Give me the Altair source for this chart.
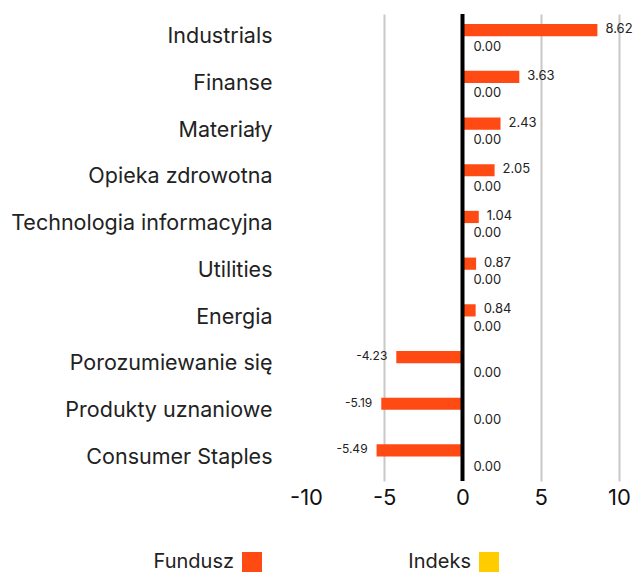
import altair as alt
import pandas as pd

categories = ["Industrials", "Finanse", "Materiały", "Opieka zdrowotna",
              "Technologia informacyjna", "Utilities", "Energia",
              "Porozumiewanie się", "Produkty uznaniowe", "Consumer Staples"]
fundusz = [8.62, 3.63, 2.43, 2.05, 1.04, 0.87, 0.84, -4.23, -5.19, -5.49]
indeks = [0.00, 0.00, 0.00, 0.00, 0.00, 0.00, 0.00, 0.00, 0.00, 0.00]
series = ["Fundusz", "Indeks"]
colors = ["#FF4A14", "#FFCC00"]
x_ticks = [-10, -5, 0, 5, 10]

rows = []
for c, f, i in zip(categories, fundusz, indeks):
    rows.append({"category": c, "series": "Fundusz", "value": f})
    rows.append({"category": c, "series": "Indeks", "value": i})
df = pd.DataFrame(rows)

FONT = "Inter"

y_enc = alt.Y("category:N", sort=categories,
              scale=alt.Scale(paddingInner=0.4, paddingOuter=0.2),
              axis=alt.Axis(title=None, labelFontSize=21.5, labelPadding=34,
                            labelLimit=0, ticks=False, domain=False,
                            labelColor="#222222", labelFont=FONT))
yoff = alt.YOffset("series:N", sort=series,
                   scale=alt.Scale(paddingInner=0.15, paddingOuter=0.05))
x_enc = alt.X("value:Q", scale=alt.Scale(domain=[-10, 10]),
              axis=alt.Axis(values=x_ticks, title=None, labelFontSize=22,
                            labelFont=FONT, labelColor="#111111",
                            labelFlush=False,
                            labelExpr="replace(datum.label, '\u2212', '-')",
                            domain=False, ticks=False, labelPadding=6,
                            gridWidth=2,
                            gridColor={"condition": {"test": "datum.value === -10 || datum.value === 0",
                                                     "value": "transparent"},
                                       "value": "#c8c8c8"}))

base = alt.Chart(df).transform_calculate(
    lbl="replace(format(datum.value, '.2f'), '\u2212', '-')")

bars = base.mark_bar().encode(
    x=x_enc, y=y_enc, yOffset=yoff,
    color=alt.Color("series:N", sort=series,
                    scale=alt.Scale(domain=series, range=colors),
                    legend=alt.Legend(title=None, orient="none", legendX=-64, legendY=538,
                                      direction="horizontal", symbolType="square",
                                      symbolSize=400, symbolStrokeWidth=0,
                                      labelFontSize=20, labelFont=FONT,
                                      labelColor="#222222", labelAlign="right",
                                      labelOffset=alt.ExprRef("-28"), columnPadding=146)),
)

zero = alt.Chart(pd.DataFrame({"z": [0]})).mark_rule(color="black", strokeWidth=4).encode(
    x=alt.X("z:Q"))

pos = base.transform_filter("datum.series === 'Fundusz' && datum.value >= 0").mark_text(
    align="left", dx=8, dy=-1, fontSize=13, font=FONT, color="#222222").encode(
    x=alt.X("value:Q"), y=alt.Y("category:N", sort=categories), yOffset=yoff,
    text=alt.Text("lbl:N"))

neg = base.transform_filter("datum.series === 'Fundusz' && datum.value < 0").mark_text(
    align="right", dx=-9, dy=-1, fontSize=12, font=FONT, color="#222222").encode(
    x=alt.X("value:Q"), y=alt.Y("category:N", sort=categories), yOffset=yoff,
    text=alt.Text("lbl:N"))

idx = base.transform_filter("datum.series === 'Indeks'").mark_text(
    align="left", dx=11, dy=2, fontSize=13, font=FONT, color="#222222").encode(
    x=alt.X("value:Q"), y=alt.Y("category:N", sort=categories), yOffset=yoff,
    text=alt.Text("lbl:N"))

chart = alt.layer(bars, zero, pos, neg, idx).properties(
    width=313, height=467,
    padding={"left": 306, "top": 14, "right": 17, "bottom": 95},
    autosize=alt.AutoSizeParams(type="none"),
).configure(font=FONT).configure_view(stroke=None)

chart.save("out.html", embed_options={"renderer": "svg", "actions": False})
